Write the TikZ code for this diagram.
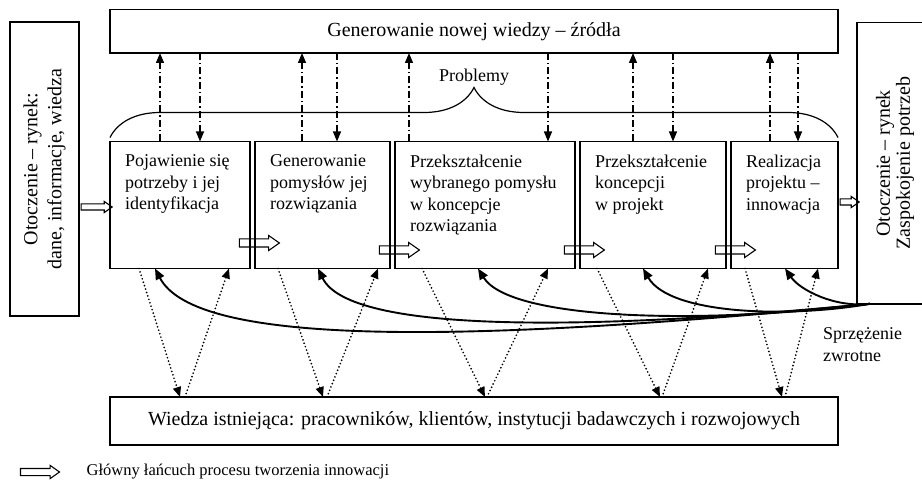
\documentclass[tikz,border=0pt]{standalone}
\usepackage{fontspec}
\setmainfont{Liberation Serif}
\usetikzlibrary{shapes,arrows,arrows.meta,positioning,calc,decorations.pathreplacing}

\begin{document}
\begin{tikzpicture}[x=1pt,y=-1pt]
        % Define styles
        \tikzstyle{panel} = [rectangle, draw, line width=1.4pt, inner sep=0pt, outer sep=0pt]
        \tikzstyle{stage} = [panel, minimum height=127pt]
        \tikzstyle{stagetext} = [inner sep=0pt, align=left, font=\fontsize{18}{21.5}\selectfont]
        \tikzstyle{bigtext} = [font=\fontsize{20}{24}\selectfont]
        \tikzstyle{chain} = [single arrow, draw, line width=1.1pt, inner xsep=0pt, inner ysep=3.5pt,
            minimum height=40pt, single arrow head extend=3.5pt, single arrow tip angle=70]
        \tikzstyle{envarrow} = [chain, inner ysep=2.5pt, single arrow head extend=2.5pt]
        \tikzstyle{probarrow} = [line width=1.3pt, dash pattern=on 7pt off 3pt on 1.5pt off 3pt,
            -{Triangle[length=10pt,width=8pt]}]
        \tikzstyle{knowarrow} = [line width=1.9pt, line cap=round, dash pattern=on 0pt off 3.6pt,
            -{Triangle[length=10pt,width=8pt]}]
        \tikzstyle{feedback} = [line width=1.9pt, -{Triangle[length=11pt,width=9pt]}]

        \useasboundingbox (0,0) rectangle (922,484);

        % Nodes
        \node [panel, bigtext, minimum width=728pt, minimum height=43.5pt] (source) at (474,31.25)
            {Generowanie nowej wiedzy – źródła};
        \node [stage, minimum width=140pt, anchor=north west] (s1) at (110,141.5) {};
        \node [stage, minimum width=135pt, right=5pt of s1] (s2) {};
        \node [stage, minimum width=180pt, right=5pt of s2] (s3) {};
        \node [stage, minimum width=146pt, right=5pt of s3] (s4) {};
        \node [stage, minimum width=107pt, right=5pt of s4] (s5) {};
        \node [panel, bigtext, minimum width=728pt, minimum height=48pt] (base) at (474,421)
            {Wiedza istniejąca: pracowników, klientów, instytucji badawczych i rozwojowych};
        \node [panel, minimum width=69pt, minimum height=294pt] (market) at (44.5,169) {};
        \node [panel, minimum width=76pt, minimum height=281pt] (client) at (895,163.3) {};

        \node [stagetext, below right=13pt and 15pt of s1.north west] (t1)
            {Pojawienie się\\potrzeby i jej\\identyfikacja};
        \node [stagetext, below right=13pt and 15pt of s2.north west] (t2)
            {Generowanie\\pomysłów jej\\rozwiązania};
        \node [stagetext, below right=13pt and 15pt of s3.north west] (t3)
            {Przekształcenie\\wybranego pomysłu\\w koncepcje\\rozwiązania};
        \node [stagetext, below right=13pt and 15pt of s4.north west] (t4)
            {Przekształcenie\\koncepcji\\w projekt};
        \node [stagetext, below right=13pt and 15pt of s5.north west] (t5)
            {Realizacja\\projektu –\\innowacja};
        \node [bigtext, rotate=90, align=center] (marketlabel) at (market)
            {Otoczenie – rynek:\\dane, informacje, wiedza};
        \node [rotate=90, align=center, font=\fontsize{20}{20}\selectfont] (clientlabel) at (client)
            {Otoczenie – rynek\\Zaspokojenie potrzeb};

        % Main chain
        \node [chain] (a12) at ($(s1.east)!0.5!(s2.west)+(4,38)$) {};
        \node [chain] (a23) at ($(s2.east)!0.5!(s3.west)+(4,45)$) {};
        \node [chain] (a34) at ($(s3.east)!0.5!(s4.west)+(4,45)$) {};
        \node [chain] (a45) at ($(s4.east)!0.5!(s5.west)+(4,45)$) {};
        \node [envarrow, minimum height=31pt] (ain) at ($(market.east |- s1.west)!0.5!(s1.west)+(0,2)$) {};
        \node [envarrow, minimum height=19pt] (aout) at ($(s5.east)!0.5!(client.west |- s5.east)+(0,-3)$) {};

        % Problems
        \draw [line width=1.2pt, decorate, decoration={brace, amplitude=50pt, raise=4pt}]
            (s1.north west) -- (s5.north east);
        \node [stagetext] (problems) at ($(s1.north west)!0.5!(s5.north east)+(0,-64)$) {Problemy};

        \draw [probarrow] ($(s1.north west)+(50,0)$) -- ($(s1.north west |- source.south)+(50,0)$);
        \draw [probarrow] ($(s1.north west |- source.south)+(90,0)$) -- ($(s1.north west)+(90,0)$);
        \draw [probarrow] ($(s2.north west)+(47,0)$) -- ($(s2.north west |- source.south)+(47,0)$);
        \draw [probarrow] ($(s2.north west |- source.south)+(82,0)$) -- ($(s2.north west)+(82,0)$);
        \draw [probarrow] ($(s3.north west)+(14,0)$) -- ($(s3.north west |- source.south)+(14,0)$);
        \draw [probarrow] ($(s3.north west |- source.south)+(153,0)$) -- ($(s3.north west)+(153,0)$);
        \draw [probarrow] ($(s4.north west)+(53,0)$) -- ($(s4.north west |- source.south)+(53,0)$);
        \draw [probarrow] ($(s4.north west |- source.south)+(93,0)$) -- ($(s4.north west)+(93,0)$);
        \draw [probarrow] ($(s5.north west)+(39,0)$) -- ($(s5.north west |- source.south)+(39,0)$);
        \draw [probarrow] ($(s5.north west |- source.south)+(67,0)$) -- ($(s5.north west)+(67,0)$);

        % Existing knowledge
        \draw [knowarrow] ($(s1.south west)+(29,0)$) -- ($(base.north west)+(70,0)$);
        \draw [knowarrow] ($(base.north west)+(75,0)$) -- ($(s1.south west)+(119,0)$);
        \draw [knowarrow] ($(s2.south west)+(23,0)$) -- ($(base.north west)+(213,0)$);
        \draw [knowarrow] ($(base.north west)+(217,0)$) -- ($(s2.south west)+(123,0)$);
        \draw [knowarrow] ($(s3.south west)+(27,0)$) -- ($(base.north west)+(375,0)$);
        \draw [knowarrow] ($(base.north west)+(377,0)$) -- ($(s3.south west)+(153,0)$);
        \draw [knowarrow] ($(s4.south west)+(17,0)$) -- ($(base.north west)+(550,0)$);
        \draw [knowarrow] ($(base.north west)+(552,0)$) -- ($(s4.south west)+(128,0)$);
        \draw [knowarrow] ($(s5.south west)+(14,0)$) -- ($(base.north west)+(672,0)$);
        \draw [knowarrow] ($(base.north west)+(675,0)$) -- ($(s5.south west)+(87,0)$);

        % Feedback
        \coordinate (fb) at ($(client.south west)+(13,0)$);
        \draw [feedback] (fb) .. controls (450,345) and (195,345) .. ($(s1.south west)+(45,0)$);
        \draw [feedback] (fb) .. controls (600,330) and (350,335) .. ($(s2.south west)+(63,0)$);
        \draw [feedback] (fb) .. controls (700,325) and (510,320) .. ($(s3.south west)+(83,0)$);
        \draw [feedback] (fb) .. controls (790,318) and (670,315) .. ($(s4.south west)+(63,0)$);
        \draw [feedback] (fb) .. controls (835,308) and (800,290) .. ($(s5.south west)+(54,0)$);
        \node [stagetext, anchor=north west] (fblabel) at ($(client.south west)+(-34,24)$)
            {Sprzężenie\\zwrotne};

        % Legend
        \node [envarrow, minimum height=39pt, inner ysep=3pt, single arrow head extend=3pt]
            (legendarrow) at (37.5,472) {};
        \node [inner sep=0pt, font=\fontsize{16.5}{19}\selectfont, right=26pt of legendarrow] (legendtext)
            {Główny łańcuch procesu tworzenia innowacji};
\end{tikzpicture}
\end{document}
